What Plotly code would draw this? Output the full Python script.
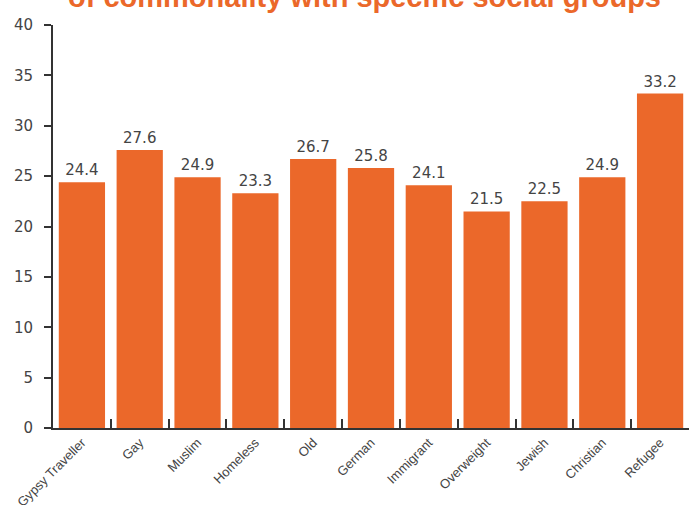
import plotly.graph_objects as go

categories = ["Gypsy Traveller", "Gay", "Muslim", "Homeless", "Old", "German",
              "Immigrant", "Overweight", "Jewish", "Christian", "Refugee"]
values = [24.4, 27.6, 24.9, 23.3, 26.7, 25.8, 24.1, 21.5, 22.5, 24.9, 33.2]
y_ticks = [0, 5, 10, 15, 20, 25, 30, 35, 40]
title_text = "of commonality with specific social groups"

ORANGE = "#EB682A"
AXIS = "#333333"
TEXT = "#444444"
NUMFONT = "DejaVu Sans, Verdana, sans-serif"

fig = go.Figure(go.Bar(
    x=categories, y=values,
    marker=dict(color=ORANGE, line=dict(width=0)),
    text=[f"{v:.1f}" for v in values],
    textposition="outside",
    textfont=dict(family=NUMFONT, size=15, color=TEXT),
    cliponaxis=False,
))

fig.update_layout(
    width=689, height=505,
    margin=dict(l=53, r=0, t=25, b=77, autoexpand=False),
    paper_bgcolor="white", plot_bgcolor="white",
    bargap=0.2,
    showlegend=False,
    font=dict(family="Liberation Sans, Arial", color=TEXT),
    annotations=[dict(
        text=f"<b>{title_text}</b>", xref="paper", yref="paper",
        x=0.49, y=1.024, xanchor="center", yanchor="bottom",
        showarrow=False, font=dict(size=29, color=ORANGE,
                                   family="Liberation Sans, Arial"),
    )],
)

fig.update_yaxes(
    range=[0, 40], tickvals=y_ticks, showgrid=False, zeroline=False,
    showline=True, linecolor=AXIS, linewidth=2,
    ticks="outside", ticklen=7, tickwidth=2, tickcolor=AXIS,
    tickfont=dict(family=NUMFONT, size=15, color=TEXT),
    ticklabelstandoff=8,
)
fig.update_xaxes(
    showline=True, linecolor=AXIS, linewidth=2, showgrid=False,
    ticks="inside", tickson="boundaries", ticklen=9, tickwidth=2, tickcolor=AXIS,
    tickangle=-45, tickfont=dict(size=13, color=TEXT),
)

fig.write_html("out.html", config={"displayModeBar": False},
               post_script="document.body.style.margin='0';document.body.style.padding='0';")
